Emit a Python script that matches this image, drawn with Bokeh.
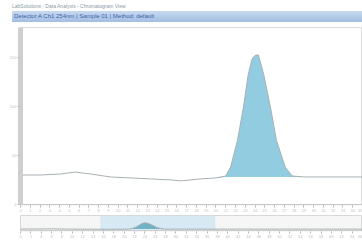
from bokeh.plotting import figure
from bokeh.layouts import column
from bokeh.models import BoxAnnotation, Range1d, Div
from bokeh.embed import file_html
from bokeh.resources import INLINE

# Trace: retention time (min) and signal (mAU)
time_min = [0.0, 2.0, 4.1, 5.6, 7.2, 9.2, 11.3, 13.3, 15.4, 16.4, 17.4, 18.4,
            20.0, 21.0, 21.5, 22.2, 22.8, 23.3, 23.7, 24.05, 24.35, 24.9, 25.6,
            26.2, 27.1, 27.8, 29.0, 31.0, 33.0, 35.0, 40.0, 50.0, 66.0]
signal = [30, 30, 31, 33, 31, 28, 27, 26, 25, 24, 25, 26,
          27, 29, 38, 65, 98, 132, 148, 152, 152, 132, 98,
          65, 38, 29, 28, 28, 28, 28, 28, 28, 28]
peak_start, peak_end = 12, 27
baseline_level = [27, 28, 28, 28, 28, 28, 28, 28, 28, 28, 28, 28, 28, 28, 28]
view_start, view_end = 15.5, 37.5

header = Div(text="<div style='width:350px;margin-left:12px;'>"
                  "<div style='font:5px sans-serif;color:#8a9aa8;height:6px;line-height:6px;margin-top:3px;'>"
                  "LabSolutions - Data Analysis - Chromatogram View</div>"
                  "<div style='font:6px sans-serif;color:#3c64a8;height:11px;line-height:11px;margin-top:2px;"
                  "padding-left:2px;background:linear-gradient(#c8d9ef,#a3bee2);'>"
                  "Detector A  Ch1  254nm  |  Sample 01  |  Method: default</div></div>",
             width=362, height=22, margin=(0, 0, 0, 0))

main = figure(width=362, height=192, output_backend="svg", toolbar_location=None,
              x_range=Range1d(0, 35), y_range=Range1d(0, 180),
              min_border_left=20, min_border_right=0, min_border_top=5, min_border_bottom=0,
              margin=(0, 0, 0, 0))
main.varea(x=time_min[peak_start:peak_end], y1=baseline_level,
           y2=signal[peak_start:peak_end], fill_color="#92cce0")
main.line(time_min, signal, line_color="#a8b0b4", line_width=1)
main.xgrid.visible = False
main.ygrid.visible = False
main.outline_line_color = "#dcdcdc"
for ax in (main.xaxis, main.yaxis):
    ax.major_label_text_font_size = "4px"
    ax.major_label_text_color = "#c0c0c0"
    ax.axis_line_color = "#c8c8c8"
    ax.major_tick_line_color = "#b8b8b8"
    ax.minor_tick_line_color = "#d0d0d0"
    ax.major_tick_out = 3
    ax.major_tick_in = 0
    ax.minor_tick_out = 1
    ax.major_label_standoff = 1
main.yaxis.axis_line_width = 5
main.yaxis.axis_line_color = "#cfcfcf"
main.xaxis.ticker.desired_num_ticks = 30

mini = figure(width=362, height=26, output_backend="svg", toolbar_location=None,
              x_range=Range1d(0, 66), y_range=Range1d(0, 300),
              min_border_left=20, min_border_right=0, min_border_top=1, min_border_bottom=0,
              margin=(0, 0, 0, 0))
mini.add_layout(BoxAnnotation(left=view_start, right=view_end, fill_color="#d4e9f4",
                              fill_alpha=0.9, line_color="#b8d6e6", level="underlay"))
mini.varea(x=time_min[peak_start:peak_end], y1=baseline_level,
           y2=signal[peak_start:peak_end], fill_color="#6fb3c4")
mini.line(time_min, signal, line_color="#a8b0b4", line_width=1)
mini.xgrid.visible = False
mini.ygrid.visible = False
mini.yaxis.visible = False
mini.outline_line_color = "#d8d8d8"
mini.background_fill_color = "#f6f6f6"
mini.xaxis.major_label_text_font_size = "4px"
mini.xaxis.major_label_text_color = "#c0c0c0"
mini.xaxis.axis_line_color = "#c8c8c8"
mini.xaxis.major_tick_line_color = "#b8b8b8"
mini.xaxis.minor_tick_line_color = "#dcdcdc"
mini.xaxis.major_tick_out = 3
mini.xaxis.major_tick_in = 0
mini.xaxis.minor_tick_out = 1
mini.xaxis.major_label_standoff = 1
mini.xaxis.ticker.desired_num_ticks = 24

p = column(header, main, mini, spacing=0)
open("out.html", "w").write(file_html(p, INLINE))
